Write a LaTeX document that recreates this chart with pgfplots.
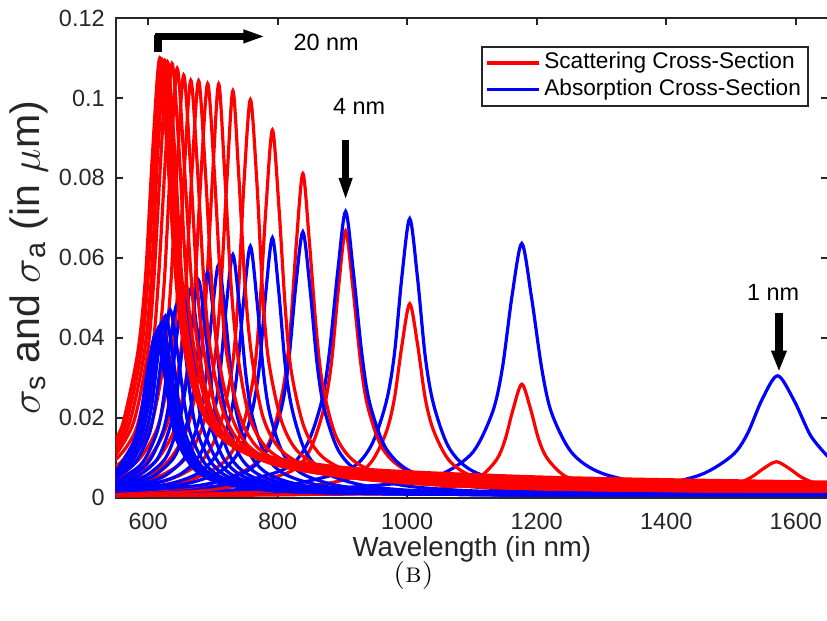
\documentclass[border=0pt]{standalone}
\usepackage{fontspec}
\setsansfont{Liberation Sans}
\usepackage{pgfplots}
\pgfplotsset{compat=1.18}
\begin{document}
\begin{tikzpicture}
\pgfplotsset{
  sc/.style={color=red, line width=1.6pt, smooth},
  ab/.style={color=blue, line width=1.6pt, smooth},
  scf/.style={sc, forget plot},
  abf/.style={ab, forget plot},
}
\begin{axis}[
  scale only axis, width=355.75pt, height=239.5pt,
  xmin=550, xmax=1650, ymin=0, ymax=0.12,
  xtick={600,800,1000,1200,1400,1600},
  xticklabels={600,800,1000,1200,1400,1600},
  ytick={0,0.02,0.04,0.06,0.08,0.1,0.12},
  yticklabels={0,0.02,0.04,0.06,0.08,0.1,0.12},
  tick align=inside, major tick length=3.5pt,
  axis line style={black!85, line width=1.1pt},
  tick style={black!85, line width=1.1pt},
  tick label style={font=\sffamily\fontsize{11.7}{13}\selectfont, text=black!85},
  xticklabel style={yshift=-4pt},
  yticklabel style={xshift=-2pt},
  xlabel={Wavelength (in nm)},
  ylabel={$\sigma$\textsubscript{s} and $\sigma$\textsubscript{a} (in $\mu$m)},
  xlabel style={font=\sffamily\fontsize{13.8}{15}\selectfont, text=black!85,
    at={(axis description cs:0.5,-0.1086)}, anchor=center},
  ylabel style={font=\sffamily\fontsize{20.5}{22}\selectfont, text=black!85,
    at={(axis description cs:-0.1216,0.5)}, anchor=center},
  legend cell align=left,
  legend style={at={(rel axis cs:0.973,0.9415)}, anchor=north east,
    draw=black!85, line width=1pt, font=\sffamily\fontsize{11.3}{13}\selectfont,
    inner xsep=1.5pt, inner ysep=1.2pt, row sep=0pt,
    nodes={inner ysep=1.4pt, inner xsep=2pt, text height=8.2pt, text depth=2.4pt}},
  legend image code/.code={\draw[#1] (0pt,0pt) -- (26pt,0pt);},
]

% n = 1
\addplot[sc] coordinates {(550,0.0005)(800,0.0008)(1000,0.0010)(1300,0.0015)(1418,0.0020)(1475,0.0026)(1513,0.0038)(1532,0.0052)(1551,0.0074)(1570,0.0090)(1589,0.0074)(1608,0.0052)(1627,0.0038)(1650,0.0030)};
\addplot[ab] coordinates {(550,0.0008)(1000,0.0011)(1243,0.0018)(1384,0.0033)(1454,0.0058)(1502,0.0106)(1525,0.0159)(1548,0.0246)(1572,0.0305)(1598,0.0241)(1623,0.0155)(1650,0.0102)};
% n = 2
\addplot[scf] coordinates {(550,0.0005)(800,0.0007)(1000,0.0015)(1073,0.0028)(1112,0.0052)(1138,0.0095)(1151,0.0144)(1164,0.0224)(1177,0.0284)(1190,0.0225)(1203,0.0146)(1216,0.0099)(1242,0.0056)(1281,0.0033)(1359,0.0019)(1489,0.0012)(1650,0.0009)};
\addplot[abf] coordinates {(550,0.0010)(800,0.0016)(1000,0.0038)(1057,0.0062)(1102,0.0115)(1132,0.0215)(1147,0.0324)(1162,0.0506)(1177,0.0636)(1192,0.0501)(1208,0.0321)(1223,0.0212)(1254,0.0113)(1301,0.0061)(1394,0.0030)(1549,0.0016)(1650,0.0013)};
% n = 3
\addplot[scf] coordinates {(550,0.0007)(700,0.0011)(800,0.0018)(906,0.0046)(943,0.0086)(967,0.0161)(980,0.0245)(992,0.0382)(1004,0.0485)(1016,0.0384)(1028,0.0248)(1041,0.0167)(1065,0.0093)(1102,0.0053)(1176,0.0029)(1298,0.0018)(1450,0.0014)(1650,0.0011)};
\addplot[abf] coordinates {(550,0.0012)(700,0.0018)(800,0.0027)(906,0.0068)(943,0.0126)(967,0.0235)(980,0.0355)(992,0.0555)(1004,0.0698)(1016,0.0550)(1028,0.0352)(1041,0.0232)(1065,0.0124)(1102,0.0066)(1176,0.0032)(1298,0.0017)(1450,0.0012)(1650,0.0009)};
% n = 4
\addplot[scf] coordinates {(550,0.0011)(700,0.0021)(815,0.0062)(849,0.0117)(871,0.0221)(883,0.0336)(894,0.0525)(905,0.0667)(916,0.0528)(928,0.0341)(939,0.0229)(961,0.0126)(995,0.0072)(1063,0.0039)(1175,0.0024)(1400,0.0015)(1650,0.0012)};
\addplot[abf] coordinates {(550,0.0015)(700,0.0028)(807,0.0069)(844,0.0129)(868,0.0241)(880,0.0364)(893,0.0569)(905,0.0716)(917,0.0564)(930,0.0361)(942,0.0238)(966,0.0127)(1003,0.0068)(1076,0.0033)(1199,0.0017)(1400,0.0011)(1650,0.0008)};
% n = 5
\addplot[scf] coordinates {(550,0.0014)(680,0.0030)(757,0.0075)(788,0.0142)(808,0.0268)(819,0.0408)(829,0.0638)(839,0.0811)(849,0.0641)(860,0.0415)(870,0.0278)(890,0.0154)(921,0.0088)(982,0.0048)(1085,0.0029)(1200,0.0022)(1400,0.0017)(1650,0.0013)};
\addplot[abf] coordinates {(550,0.0016)(680,0.0031)(751,0.0065)(784,0.0120)(806,0.0224)(817,0.0339)(828,0.0529)(839,0.0665)(850,0.0524)(861,0.0335)(872,0.0222)(894,0.0118)(927,0.0064)(993,0.0031)(1103,0.0017)(1300,0.0010)(1650,0.0007)};
% n = 6
\addplot[scf] coordinates {(550,0.0018)(650,0.0037)(714,0.0085)(743,0.0161)(763,0.0304)(772,0.0462)(782,0.0724)(792,0.0920)(802,0.0728)(812,0.0471)(821,0.0317)(841,0.0176)(870,0.0101)(928,0.0055)(1026,0.0034)(1200,0.0023)(1400,0.0018)(1650,0.0015)};
\addplot[abf] coordinates {(550,0.0018)(650,0.0032)(710,0.0064)(741,0.0118)(761,0.0219)(772,0.0331)(782,0.0517)(792,0.0650)(802,0.0512)(812,0.0328)(823,0.0217)(843,0.0116)(874,0.0062)(936,0.0030)(1038,0.0016)(1300,0.0009)(1650,0.0006)};
% n = 7
\addplot[scf] coordinates {(550,0.0023)(630,0.0044)(682,0.0091)(710,0.0174)(730,0.0329)(739,0.0500)(748,0.0784)(758,0.0996)(768,0.0789)(777,0.0511)(786,0.0344)(806,0.0192)(834,0.0111)(891,0.0062)(986,0.0039)(1100,0.0029)(1300,0.0022)(1650,0.0017)};
\addplot[abf] coordinates {(550,0.0020)(630,0.0034)(678,0.0062)(708,0.0114)(728,0.0212)(738,0.0321)(748,0.0500)(758,0.0629)(768,0.0495)(778,0.0317)(788,0.0210)(808,0.0112)(838,0.0060)(898,0.0029)(998,0.0016)(1200,0.0009)(1650,0.0006)};
% n = 8
\addplot[scf] coordinates {(550,0.0028)(610,0.0049)(655,0.0093)(684,0.0178)(702,0.0336)(712,0.0511)(722,0.0801)(731,0.1018)(740,0.0807)(750,0.0524)(760,0.0354)(778,0.0199)(807,0.0116)(864,0.0066)(959,0.0042)(1100,0.0031)(1300,0.0024)(1650,0.0018)};
\addplot[abf] coordinates {(550,0.0022)(610,0.0036)(651,0.0060)(681,0.0110)(701,0.0205)(711,0.0310)(721,0.0484)(731,0.0608)(741,0.0479)(751,0.0307)(761,0.0203)(781,0.0108)(811,0.0059)(871,0.0029)(971,0.0016)(1200,0.0008)(1650,0.0006)};
% n = 9
\addplot[scf] coordinates {(550,0.0034)(600,0.0057)(633,0.0095)(662,0.0181)(681,0.0342)(690,0.0519)(700,0.0815)(709,0.1035)(718,0.0821)(728,0.0535)(738,0.0362)(756,0.0205)(785,0.0121)(842,0.0070)(937,0.0046)(1100,0.0033)(1300,0.0026)(1650,0.0020)};
\addplot[abf] coordinates {(550,0.0025)(600,0.0039)(629,0.0058)(659,0.0106)(679,0.0197)(689,0.0298)(699,0.0464)(709,0.0583)(719,0.0459)(729,0.0294)(739,0.0195)(759,0.0104)(789,0.0056)(849,0.0028)(949,0.0015)(1200,0.0008)(1650,0.0006)};
% n = 10
\addplot[scf] coordinates {(550,0.0041)(580,0.0057)(614,0.0095)(643,0.0181)(663,0.0342)(672,0.0520)(682,0.0815)(692,0.1036)(702,0.0823)(712,0.0537)(721,0.0365)(741,0.0208)(770,0.0124)(829,0.0073)(926,0.0048)(1000,0.0041)(1200,0.0031)(1400,0.0026)(1650,0.0022)};
\addplot[abf] coordinates {(550,0.0028)(580,0.0038)(610,0.0056)(641,0.0103)(661,0.0191)(672,0.0288)(682,0.0449)(692,0.0564)(702,0.0444)(712,0.0285)(723,0.0188)(743,0.0101)(774,0.0055)(836,0.0027)(938,0.0015)(1200,0.0008)(1650,0.0006)};
% n = 11
\addplot[scf] coordinates {(550,0.0048)(575,0.0065)(600,0.0095)(629,0.0182)(649,0.0344)(658,0.0524)(668,0.0821)(678,0.1043)(688,0.0829)(698,0.0543)(707,0.0370)(727,0.0213)(756,0.0128)(815,0.0076)(912,0.0052)(1000,0.0043)(1200,0.0033)(1400,0.0028)(1650,0.0023)};
\addplot[abf] coordinates {(550,0.0031)(575,0.0041)(596,0.0054)(627,0.0099)(647,0.0184)(658,0.0278)(668,0.0434)(678,0.0544)(688,0.0429)(698,0.0275)(709,0.0182)(729,0.0097)(760,0.0053)(822,0.0026)(924,0.0014)(1200,0.0008)(1650,0.0006)};
% n = 12
\addplot[scf] coordinates {(550,0.0057)(586,0.0096)(616,0.0182)(636,0.0344)(646,0.0524)(656,0.0822)(666,0.1044)(676,0.0831)(686,0.0545)(696,0.0373)(716,0.0216)(746,0.0132)(806,0.0080)(906,0.0055)(1000,0.0045)(1200,0.0035)(1400,0.0030)(1650,0.0025)};
\addplot[abf] coordinates {(550,0.0035)(582,0.0052)(614,0.0096)(634,0.0178)(645,0.0268)(656,0.0417)(666,0.0523)(676,0.0412)(687,0.0264)(698,0.0175)(718,0.0094)(750,0.0051)(813,0.0025)(918,0.0014)(1200,0.0008)(1650,0.0006)};
% n = 13
\addplot[scf] coordinates {(550,0.0066)(575,0.0097)(605,0.0184)(625,0.0349)(635,0.0531)(645,0.0832)(655,0.1057)(665,0.0842)(675,0.0554)(685,0.0380)(705,0.0221)(735,0.0136)(795,0.0083)(895,0.0058)(1000,0.0047)(1200,0.0037)(1400,0.0031)(1650,0.0027)};
\addplot[abf] coordinates {(550,0.0038)(571,0.0051)(602,0.0092)(624,0.0171)(634,0.0257)(644,0.0401)(655,0.0502)(666,0.0396)(676,0.0254)(686,0.0168)(708,0.0090)(739,0.0049)(802,0.0024)(907,0.0014)(1200,0.0007)(1650,0.0006)};
% n = 14
\addplot[scf] coordinates {(550,0.0080)(563,0.0098)(594,0.0187)(614,0.0354)(625,0.0539)(635,0.0845)(645,0.1074)(655,0.0856)(666,0.0564)(676,0.0388)(696,0.0227)(727,0.0141)(788,0.0087)(891,0.0061)(1000,0.0049)(1200,0.0039)(1400,0.0033)(1650,0.0028)};
\addplot[abf] coordinates {(550,0.0042)(561,0.0049)(592,0.0089)(614,0.0165)(624,0.0249)(634,0.0387)(645,0.0485)(656,0.0382)(666,0.0245)(676,0.0163)(698,0.0087)(729,0.0048)(792,0.0024)(897,0.0013)(1200,0.0007)(1650,0.0006)};
% n = 15
\addplot[scf] coordinates {(550,0.0095)(568,0.0130)(585,0.0189)(606,0.0358)(616,0.0545)(627,0.0855)(637,0.1086)(648,0.0866)(658,0.0572)(669,0.0395)(690,0.0233)(721,0.0145)(784,0.0091)(889,0.0064)(1000,0.0052)(1200,0.0041)(1400,0.0035)(1650,0.0030)};
\addplot[abf] coordinates {(550,0.0049)(580,0.0087)(602,0.0160)(612,0.0241)(623,0.0375)(634,0.0470)(645,0.0370)(656,0.0238)(666,0.0158)(688,0.0085)(720,0.0046)(784,0.0023)(892,0.0013)(1200,0.0007)(1650,0.0006)};
% n = 16
\addplot[scf] coordinates {(550,0.0107)(578,0.0190)(599,0.0360)(609,0.0547)(620,0.0858)(630,0.1090)(641,0.0870)(651,0.0576)(662,0.0399)(683,0.0236)(714,0.0149)(777,0.0094)(882,0.0067)(1000,0.0054)(1200,0.0044)(1400,0.0037)(1650,0.0032)};
\addplot[abf] coordinates {(550,0.0053)(573,0.0084)(595,0.0155)(606,0.0234)(616,0.0364)(627,0.0455)(638,0.0359)(648,0.0230)(659,0.0153)(681,0.0082)(713,0.0045)(778,0.0023)(885,0.0013)(1200,0.0007)(1650,0.0006)};
% n = 17
\addplot[scf] coordinates {(550,0.0119)(572,0.0190)(594,0.0361)(605,0.0549)(615,0.0860)(626,0.1093)(637,0.0873)(648,0.0579)(658,0.0402)(680,0.0240)(712,0.0152)(777,0.0097)(884,0.0070)(1000,0.0057)(1200,0.0046)(1400,0.0039)(1650,0.0034)};
\addplot[abf] coordinates {(550,0.0058)(567,0.0081)(589,0.0150)(600,0.0226)(611,0.0352)(622,0.0440)(633,0.0347)(644,0.0223)(655,0.0148)(677,0.0080)(710,0.0044)(776,0.0022)(886,0.0013)(1200,0.0007)(1650,0.0006)};
% n = 18
\addplot[scf] coordinates {(550,0.0132)(567,0.0191)(589,0.0361)(600,0.0550)(611,0.0862)(622,0.1095)(633,0.0876)(644,0.0582)(655,0.0405)(677,0.0243)(710,0.0156)(776,0.0100)(886,0.0072)(1000,0.0060)(1200,0.0048)(1400,0.0041)(1650,0.0035)};
\addplot[abf] coordinates {(550,0.0063)(562,0.0080)(584,0.0147)(596,0.0221)(607,0.0344)(618,0.0430)(629,0.0339)(641,0.0218)(652,0.0144)(674,0.0078)(708,0.0043)(776,0.0022)(888,0.0012)(1200,0.0007)(1650,0.0006)};
% n = 19
\addplot[scf] coordinates {(550,0.0138)(565,0.0191)(587,0.0362)(598,0.0551)(609,0.0863)(620,0.1097)(631,0.0878)(642,0.0585)(653,0.0409)(675,0.0247)(708,0.0159)(774,0.0104)(884,0.0075)(1000,0.0062)(1200,0.0050)(1400,0.0043)(1650,0.0037)};
\addplot[abf] coordinates {(550,0.0065)(559,0.0078)(581,0.0144)(592,0.0216)(604,0.0336)(615,0.0420)(626,0.0331)(638,0.0213)(649,0.0141)(671,0.0076)(705,0.0042)(772,0.0021)(885,0.0012)(1200,0.0007)(1650,0.0006)};
% n = 20
\addplot[scf] coordinates {(550,0.0148)(562,0.0191)(584,0.0362)(596,0.0551)(607,0.0865)(618,0.1099)(629,0.0881)(641,0.0588)(652,0.0412)(674,0.0250)(708,0.0162)(776,0.0107)(888,0.0078)(1000,0.0065)(1200,0.0052)(1400,0.0045)(1650,0.0039)};
\addplot[abf] coordinates {(550,0.0069)(555,0.0076)(578,0.0141)(589,0.0211)(600,0.0328)(612,0.0410)(624,0.0323)(635,0.0208)(646,0.0138)(670,0.0074)(704,0.0041)(773,0.0021)(888,0.0012)(1200,0.0007)(1650,0.0006)};

\legend{Scattering Cross-Section,Absorption Cross-Section}

% annotations
\draw[line width=3.7pt] (axis cs:615.5,0.1114) -- (axis cs:615.5,0.1158);
\draw[line width=3.2pt] (axis cs:610,0.1154) -- (axis cs:750,0.1154);
\fill (axis cs:747,0.1172) -- (axis cs:778,0.1154) -- (axis cs:747,0.1136) -- cycle;
\node[font=\sffamily\fontsize{11.7}{13}\selectfont] at (axis cs:875,0.1140) {20 nm};
\draw[line width=3.6pt] (axis cs:905,0.0894) -- (axis cs:905,0.0795);
\fill (axis cs:894,0.0800) -- (axis cs:916,0.0800) -- (axis cs:905,0.0749) -- cycle;
\node[font=\sffamily\fontsize{11.7}{13}\selectfont] at (axis cs:926,0.0978) {4 nm};
\draw[line width=3.7pt] (axis cs:1574,0.0461) -- (axis cs:1574,0.0363);
\fill (axis cs:1561.5,0.0368) -- (axis cs:1586.5,0.0368) -- (axis cs:1574,0.0318) -- cycle;
\node[font=\sffamily\fontsize{11.7}{13}\selectfont] at (axis cs:1565,0.0514) {1 nm};
\end{axis}
\node[font=\fontsize{14}{16}\selectfont] at ([shift={(148.75pt,-39pt)}]current axis.south west) {\textsc{(b)}};
\pgfresetboundingbox
\path ([shift={(-57.75pt,-61.5pt)}]current axis.south west) rectangle ([shift={(-0.6pt,9pt)}]current axis.north east);
\end{tikzpicture}
\end{document}
